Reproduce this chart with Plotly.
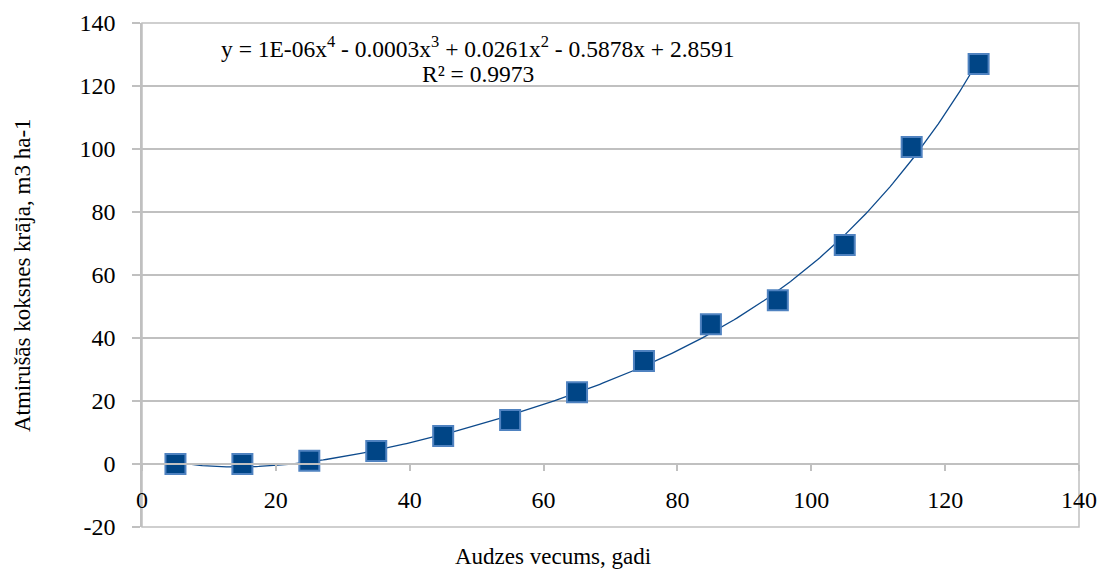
import numpy as np
import plotly.graph_objects as go

# Data
age = [5, 15, 25, 35, 45, 55, 65, 75, 85, 95, 105, 115, 125]
deadwood = [0.0, 0.0, 1.0, 4.1, 8.9, 14.0, 22.8, 32.7, 44.4, 52.0, 69.5, 100.6, 127.0]
x_ticks = [0, 20, 40, 60, 80, 100, 120, 140]
y_ticks = [-20, 0, 20, 40, 60, 80, 100, 120, 140]
y_tick_text = ["-20", "0", "20", "40", "60", "80", "100", "120", "140"]
eq_text = "y = 1E-06x<sup>4</sup> - 0.0003x<sup>3</sup> + 0.0261x<sup>2</sup> - 0.5878x + 2.8591"
r2_text = "R² = 0.9973"
x_title = "Audzes vecums, gadi"
y_title = "Atmirušās koksnes krāja, m3 ha-1"

# 4th-order polynomial trendline fitted to the data
coef = np.polyfit(age, deadwood, 4)
xs = np.linspace(min(age), max(age), 300)
ys = np.polyval(coef, xs)

FONT = "Liberation Serif"
GRID = "#c0c0c0"

fig = go.Figure()
fig.add_trace(go.Scatter(x=xs, y=ys, mode="lines",
                         line=dict(color="#0d4a8c", width=1.3),
                         hoverinfo="skip", showlegend=False))
fig.add_trace(go.Scatter(x=age, y=deadwood, mode="markers",
                         marker=dict(symbol="square", size=20, color="#004586",
                                     line=dict(color="#4f82c0", width=2)),
                         showlegend=False))

fig.update_layout(
    width=1100, height=571, autosize=False,
    margin=dict(l=142, r=21, t=23, b=44, autoexpand=False),
    paper_bgcolor="white", plot_bgcolor="white",
    font=dict(family=FONT, size=24, color="black"),
    xaxis=dict(range=[0, 140], tickvals=x_ticks, showgrid=False, zeroline=False,
               showline=True, linecolor=GRID, linewidth=1.5,
               ticks="outside", ticklen=6, tickcolor=GRID, tickwidth=1.5,
               anchor="free", position=20 / 160, ticklabelstandoff=8,
               automargin=False, ticklabeloverflow="allow",
               tickfont=dict(family=FONT, size=24, color="black")),
    yaxis=dict(range=[-20, 140], tickvals=y_ticks, ticktext=y_tick_text,
               showgrid=True, gridcolor=GRID, gridwidth=1.5, zeroline=False,
               showline=True, linecolor=GRID, linewidth=1.5,
               ticks="outside", ticklen=8, tickcolor=GRID, tickwidth=1.5,
               ticklabelstandoff=12, automargin=False, ticklabeloverflow="allow",
               tickfont=dict(family=FONT, size=24, color="black")),
    shapes=[dict(type="rect", xref="paper", yref="paper", x0=0, x1=1, y0=0, y1=1,
                 line=dict(color=GRID, width=1.5), layer="below")],
    annotations=[
        dict(text=eq_text, xref="paper", yref="paper", x=0.3586, y=0.952,
             showarrow=False, xanchor="center", yanchor="middle",
             font=dict(family=FONT, size=23.5, color="black")),
        dict(text=r2_text, xref="paper", yref="paper", x=0.3586, y=0.899,
             showarrow=False, xanchor="center", yanchor="middle",
             font=dict(family=FONT, size=23.5, color="black")),
        dict(text=x_title, xref="paper", yref="paper", x=0.4386, y=-0.0595,
             showarrow=False, xanchor="center", yanchor="middle",
             font=dict(family=FONT, size=23, color="black")),
        dict(text=y_title, xref="paper", yref="paper", x=-0.128, y=0.5,
             showarrow=False, xanchor="center", yanchor="middle", textangle=-90,
             font=dict(family=FONT, size=23, color="black")),
    ],
)

fig.write_html("out.html", config={"displayModeBar": False, "responsive": False},
               post_script="document.body.style.margin='0';document.body.style.padding='0';"
                           "document.body.style.overflow='hidden';")
